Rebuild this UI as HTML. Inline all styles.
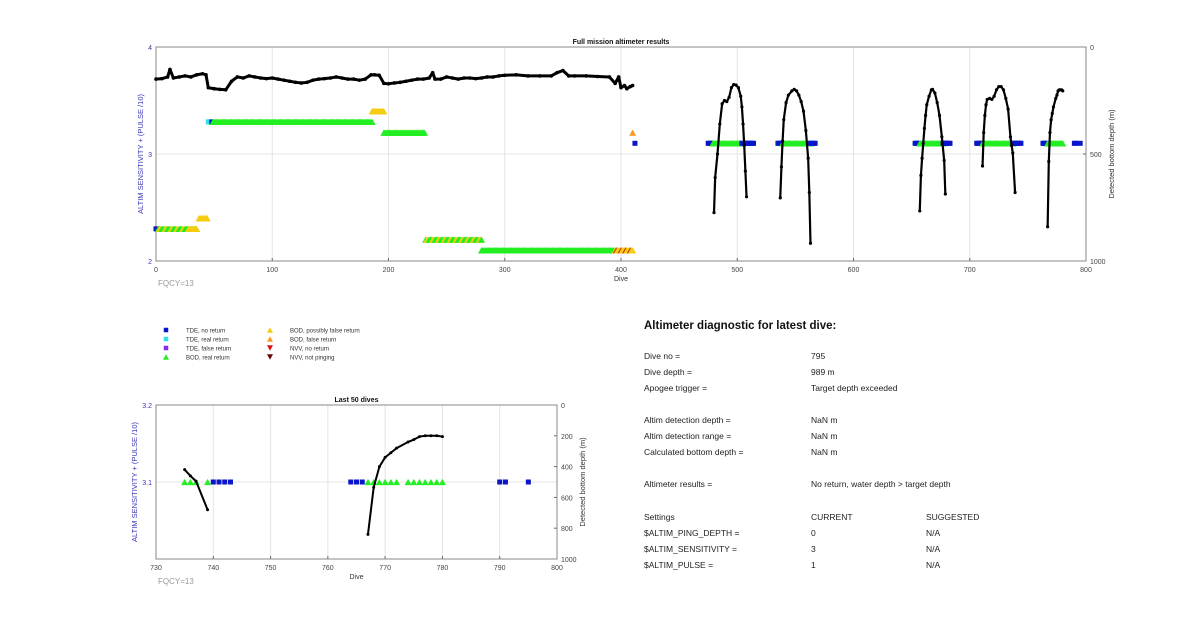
<!DOCTYPE html>
<html><head><meta charset="utf-8">
<style>
body{margin:0;background:#fff;width:1200px;height:628px;overflow:hidden;font-family:"Liberation Sans",sans-serif}
svg{position:absolute;left:0;top:0}
</style></head>
<body>
<svg id="s" width="1200" height="628" xmlns="http://www.w3.org/2000/svg" font-family="Liberation Sans, sans-serif">
<rect width="1200" height="628" fill="#fff"/>
</svg>
<script>
// ---- data ----
const lineDives = [0,5,10,12,15,20,25,30,35,40,43,45,50,55,60,65,70,75,80,85,90,95,100,105,110,115,120,125,130,135,140,145,150,155,160,165,170,175,180,185,188,192,196,200,205,210,215,220,225,230,235,238,240,245,250,255,260,265,270,275,280,285,290,295,300,310,320,330,340,345,350,355,360,370,380,390,395,398,400,403,405,408,410];
const lineDepth = [150,148,140,105,145,140,135,140,130,125,130,190,195,198,200,160,140,145,135,140,145,148,145,150,155,160,165,168,165,155,150,148,145,140,145,150,150,155,150,130,130,132,170,172,168,165,160,155,150,150,145,120,150,150,140,145,150,145,145,148,145,140,140,135,132,130,135,135,135,120,110,135,135,135,138,140,170,140,190,180,195,185,180];
const arcs = [
 {d:[480,481,483,485,487,489,491,493,495,497,499,501,503,504,505,506,507,508],v:[774,610,500,360,265,250,255,235,190,175,178,190,230,280,360,460,580,700]},
 {d:[537,538,539,540,542,544,547,549,551,553,555,557,559,561,562,563],v:[705,560,440,340,260,225,205,198,205,225,255,300,390,520,680,917]},
 {d:[657,658,659,660,661,662,663,665,667,668,670,672,674,676,678,679],v:[766,600,520,450,380,320,270,230,200,198,215,260,320,420,530,687]},
 {d:[711,712,713,714,715,717,719,721,723,725,727,729,731,733,735,736,737,739],v:[556,400,320,270,245,240,245,230,200,185,185,200,240,290,420,460,495,680]},
 {d:[767,768,769,770,771,772,774,775,776,777,778,779,780],v:[840,535,400,340,310,280,240,225,205,200,200,200,205]}
];
// marker segments: start dive, end dive, level, type
const segStart = [0,2,29,37,45,48,49,186,196,232,280,395,410,412,475,479,504,535,539,563,653,657,677,706,711,737,763,767,790,795];
const segEnd   = [1,35,35,44,47,48,186,196,231,280,395,410,410,412,478,503,514,538,563,567,656,677,683,710,737,744,766,780,791,795];
const segLevel = [2.3,2.3,2.3,2.4,3.3,3.3,3.3,3.4,3.2,2.2,2.1,2.1,3.2,3.1,3.1,3.1,3.1,3.1,3.1,3.1,3.1,3.1,3.1,3.1,3.1,3.1,3.1,3.1,3.1,3.1];
const segType  = ['tde','mix','pos','pos','real','tde','bod','pos','bod','mix','bod','posr','false','tde','tde','bod','tde','tde','bod','tde','tde','bod','tde','tde','bod','tde','tde','bod','tde','tde'];
// bottom chart data
const lastDivesTri = [735,736,737,739,767,768,769,770,771,772,774,775,776,777,778,779,780];
const lastDivesSq = [740,741,742,743,764,765,766,790,791,795];
const lastLineD1 = [735,736,737,739]; const lastLineV1=[420,460,495,680];
const lastLineD2 = [767,768,769,770,771,772,774,775,776,777,778,779,780]; const lastLineV2=[840,535,400,340,310,280,240,225,205,200,200,200,205];
const topXTicks=[0,100,200,300,400,500,600,700,800];
const topYTicks=[2,3,4];
const topDTicks=[0,500,1000];
const botXTicks=[730,740,750,760,770,780,790,800];
const botYTicks=[3.1,3.2];
const botDTicks=[0,200,400,600,800,1000];

const S=document.getElementById('s');const NS='http://www.w3.org/2000/svg';
function el(t,a,p){const e=document.createElementNS(NS,t);for(const k in a)e.setAttribute(k,a[k]);(p||S).appendChild(e);return e;}
function txt(x,y,s,a,p){const e=el('text',Object.assign({x:x,y:y},a),p);e.textContent=s;return e;}
const C={tde:'#0a14c8',real:'#33ddee',bod:'#22ee22',pos:'#f5cc10',false:'#f59a20'};

function axes(name,L,R,T,B,xmin,xmax,ymin,ymax,xt,yt,dt,title,fmtY,yOff){
  const g=el('g',{});
  
  
  const X=d=>L+(d-xmin)/(xmax-xmin)*(R-L);
  const Y=v=>B-(v-ymin)/(ymax-ymin)*(B-T);
  const D=v=>T+v/1000*(B-T);
  xt.forEach(t=>{el('line',{x1:X(t),x2:X(t),y1:T,y2:B,stroke:'#e4e4e4','stroke-width':1},g);
    const l=txt(X(t),B+11,String(t),{'font-size':7,fill:'#444','text-anchor':'middle'},g);
    
    el('line',{x1:X(t),x2:X(t),y1:B,y2:B-3,stroke:'#666'},g);});
  yt.forEach(t=>{el('line',{x1:L,x2:R,y1:Y(t),y2:Y(t),stroke:'#e4e4e4'},g);
    const l=txt(L-4,Y(t)+3,fmtY(t),{'font-size':7,fill:'#3a34b8','text-anchor':'end'},g);
    });
  dt.forEach(t=>{el('line',{x1:R,x2:R-3,y1:D(t),y2:D(t),stroke:'#666'},g);
    const l=txt(R+4,D(t)+3,String(t),{'font-size':7,fill:'#444'},g);
    });
  el('rect',{x:L,y:T,width:R-L,height:B-T,fill:'none',stroke:'#888','stroke-width':1},g);
  const tt=txt((L+R)/2,T-3,title,{'font-size':7,'font-weight':'bold','text-anchor':'middle',fill:'#111'},g);
  
  const xl=txt((L+R)/2,B+20,'Dive',{'font-size':7,'text-anchor':'middle',fill:'#333'},g);
  
  const yl=txt(0,0,'ALTIM SENSITIVITY + (PULSE /10)',{'font-size':7.5,fill:'#3a34b8','text-anchor':'middle',transform:`translate(${L-yOff},${(T+B)/2}) rotate(-90)`},g);
  
  const rl=txt(0,0,'Detected bottom depth (m)',{'font-size':7.5,fill:'#333','text-anchor':'middle',transform:`translate(${R+28},${(T+B)/2}) rotate(-90)`},g);
  
  const fq=txt(L+2,B+25,'FQCY=13',{'font-size':8,fill:'#999'},g);
  
  return {g,X,Y,D};
}
function sq(g,x,y,c,s){const e=el('rect',{x:x-s/2,y:y-s/2,width:s,height:s,fill:c},g);
  }
function tri(g,x,y,c,s,down){const h=s*0.9;const p=down?`${x-s/2},${y-h/2} ${x+s/2},${y-h/2} ${x},${y+h/2}`:`${x-s/2},${y+h/2} ${x+s/2},${y+h/2} ${x},${y-h/2}`;
  const e=el('polygon',{points:p,fill:c},g);}
function poly(g,X,D,ds,vs,ms,sw){const pts=ds.map((d,i)=>X(d)+','+D(vs[i])).join(' ');
  const e=el('polyline',{points:pts,fill:'none',stroke:'#000','stroke-width':sw,'stroke-linejoin':'round'},g);
  
  ds.forEach((d,i)=>{const c=el('circle',{cx:X(d),cy:D(vs[i]),r:ms,fill:'#000'},g);
    });}

// ---- top chart ----
const A=axes('full-mission-chart',156,1086,47,261,0,800,2,4,topXTicks,topYTicks,topDTicks,'Full mission altimeter results',t=>String(t),13);
for(let i=0;i<segStart.length;i++){
  for(let d=segStart[i];d<=segEnd[i];d++){
    const x=A.X(d),y=A.Y(segLevel[i]);const t=segType[i];
    if(t==='tde'||t==='real')sq(A.g,x,y,C[t],5);
    else if(t==='bod')tri(A.g,x,y,C.bod,7);
    else if(t==='pos')tri(A.g,x,y,C.pos,7);
    else if(t==='false')tri(A.g,x,y,C.false,7);
    else if(t==='mix')tri(A.g,x,y,(d%5<3)?C.bod:C.pos,7);
    else if(t==='posr')tri(A.g,x,y,(d%4===0)?'#c03010':C.pos,7);
  }
}
poly(A.g,A.X,A.D,lineDives,lineDepth,1.8,3);
arcs.forEach(a=>poly(A.g,A.X,A.D,a.d,a.v,1.6,2.2));

// ---- bottom chart ----
const B=axes('last-50-dives-chart',156,557,405,559,730,800,3.0,3.2,botXTicks,botYTicks,botDTicks,'Last 50 dives',t=>t.toFixed(1),19);
lastDivesTri.forEach(d=>tri(B.g,B.X(d),B.Y(3.1),C.bod,7));
lastDivesSq.forEach(d=>sq(B.g,B.X(d),B.Y(3.1),C.tde,5));
poly(B.g,B.X,B.D,lastLineD1,lastLineV1,1.5,2);
poly(B.g,B.X,B.D,lastLineD2,lastLineV2,1.5,2);

// ---- legend ----
const lg=el('g',{});


const leg=[['sq',C.tde,'TDE, no return',0,0],['sq',C.real,'TDE, real return',0,1],['sq','#8a2be2','TDE, false return',0,2],['tri',C.bod,'BOD, real return',0,3],
 ['tri',C.pos,'BOD, possibly false return',1,0],['tri',C.false,'BOD, false return',1,1],['dn','#e01010','NVV, no return',1,2],['dn','#6a0808','NVV, not pinging',1,3]];
leg.forEach(e=>{const x=e[3]?270:166,y=330+e[4]*9;
  if(e[0]==='sq')sq(lg,x,y,e[1],4.5);else tri(lg,x,y,e[1],6,e[0]==='dn');
  const t=txt(x+20,y+2.5,e[2],{'font-size':6,fill:'#333'},lg);
  });

// ---- diagnostic text ----
const tg=el('g',{});


const h=txt(644,329,'Altimeter diagnostic for latest dive:',{'font-size':11.5,'font-weight':'bold',fill:'#111'},tg);

const rows=[[359,'Dive no =','795',''],[375,'Dive depth =','989 m',''],[391,'Apogee trigger =','Target depth exceeded',''],
 [423,'Altim detection depth =','NaN m',''],[439,'Altim detection range =','NaN m',''],[455,'Calculated bottom depth =','NaN m',''],
 [487,'Altimeter results =','No return, water depth > target depth',''],
 [520,'Settings','CURRENT','SUGGESTED'],[536,'$ALTIM_PING_DEPTH =','0','N/A'],[552,'$ALTIM_SENSITIVITY =','3','N/A'],[568,'$ALTIM_PULSE =','1','N/A']];
rows.forEach(r=>{[[644,r[1]],[811,r[2]],[926,r[3]]].forEach(c=>{if(!c[1])return;
  const t=txt(c[0],r[0],c[1],{'font-size':8.5,fill:'#222'},tg);
  });});
</script>
</body></html>
